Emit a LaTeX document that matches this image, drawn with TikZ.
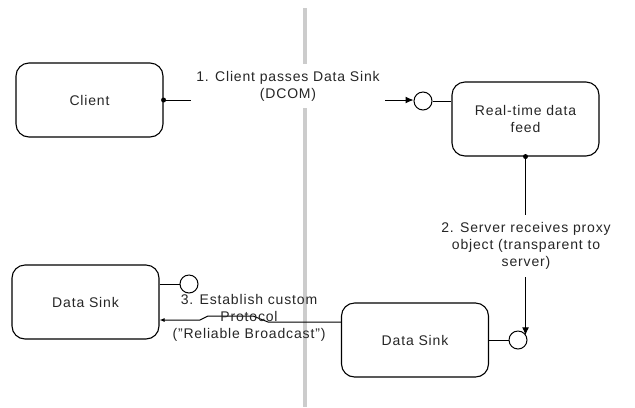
\documentclass[tikz,border=0pt]{standalone}
\usepackage{fontspec}
\setmainfont[LetterSpace=6]{Liberation Sans}
\usetikzlibrary{arrows.meta}
\newcommand\lbl{\fontsize{14bp}{17bp}\selectfont}

\begin{document}
\begin{tikzpicture}[x=1bp,y=-1bp,
  box/.style={draw, rounded corners=13bp, minimum width=147bp, minimum height=74bp,
              line width=1.1bp, align=center, font=\lbl, text=black!85},
  port/.style={draw, circle, minimum size=18bp, inner sep=0pt, line width=1bp},
  conn/.style={line width=1bp},
  tip/.style={-{Latex[length=8bp,width=7bp]}},
  smalltip/.style={-{Latex[length=5bp,width=4bp]}},
  joint/.style={circle, fill=black, inner sep=0pt, minimum size=5bp},
  msg/.style={align=center, font=\lbl, text=black!85, inner xsep=3bp, inner ysep=5bp},
  boundary/.style={line width=4bp, draw=black!20}
]
\useasboundingbox (0,0) rectangle (635,407);

% process boundary
\coordinate (bTop) at (304.5,8);
\coordinate (bBot) at (304.5,407);
\draw[boundary] (bTop) -- (bBot);

% components
\node[box] (client) at (89.5,100) {Client};
\node[box] (feed) at (525.5,119) {Real-time data\\feed};
\node[box] (sinkR) at (415,340) {Data Sink};
\node[box] (sinkL) at (85.5,302) {Data Sink};

% interface ports
\node[port] (pFeed) at (423,101) {};
\node[port] (pSinkR) at (518,340) {};
\node[port] (pSinkL) at (189,284) {};

% 1. client passes the sink to the feed
\node[joint] at (client.east) {};
\draw[conn,tip] (client.east) -- (client.east -| pFeed.west);
\node[msg, fill=white, minimum width=194bp, minimum height=44bp] (m1) at (288,86)
  {1. Client passes Data Sink\\(DCOM)};
\draw[conn] (pFeed.east) -- (pFeed.east -| feed.west);

% 2. server receives proxy
\node[joint] at (feed.south) {};
\draw[conn,tip] (feed.south) -- (feed.south |- pSinkR.30);
\node[msg, fill=white, minimum height=62bp] (m2) at (526,246)
  {2. Server receives proxy\\object (transparent to\\server)};
\draw[conn] (sinkR.east) -- (pSinkR.west);

% 3. custom protocol
\draw[conn] (sinkL.east |- pSinkL) -- (pSinkL.west);
\coordinate (k1) at (268,322);
\coordinate (k2) at (253,316);
\coordinate (k3) at (208,316);
\coordinate (k4) at (200,320);
\draw[conn,smalltip] (sinkR.west |- k1) -- (k1) -- (k2) -- (k3) -- (k4) -- (sinkL.east |- k4);
\node[msg] (m3) at (249,318)
  {3. Establish custom\\Protocol\\("Reliable Broadcast")};
\end{tikzpicture}
\end{document}
